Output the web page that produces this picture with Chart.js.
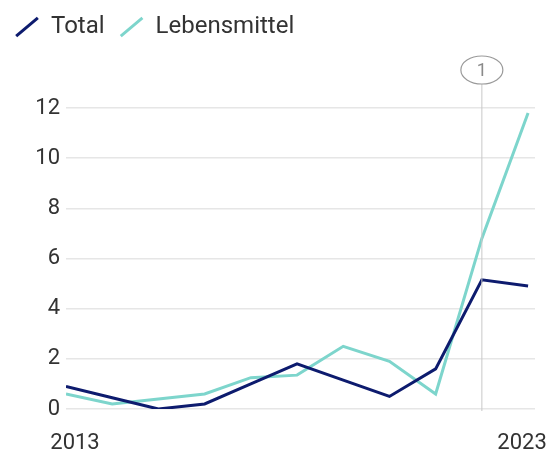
<!DOCTYPE html>
<html>
<head>
<meta charset="utf-8">
<script src="https://cdn.jsdelivr.net/npm/chart.js@4/dist/chart.umd.min.js"></script>
<style>
  html,body{margin:0;padding:0;background:#fff;}
  #wrap{width:549px;height:452px;}
</style>
</head>
<body>
<div id="wrap"><canvas id="c" width="549" height="452"></canvas></div>
<script>
// Werte
const years = [2013, 2014, 2015, 2016, 2017, 2018, 2019, 2020, 2021, 2022, 2023];
const total = [0.9, 0.45, 0.0, 0.2, 1.0, 1.8, 1.15, 0.5, 1.6, 5.15, 4.9];
const lebensmittel = [0.6, 0.2, 0.4, 0.6, 1.25, 1.35, 2.5, 1.9, 0.6, 6.8, 11.8];
const yTicks = [0, 2, 4, 6, 8, 10, 12];
const xLabels = ["2013", "2023"];
const markerYear = 2022;
const markerText = "1";

const FONT = "Roboto, 'Liberation Sans', sans-serif";
const INK = "#333333";

// mehr Platz unter der Legende
const legendSpacer = {
  id: "legendSpacer",
  beforeInit(chart){
    const fit = chart.legend.fit;
    chart.legend.fit = function(){
      fit.bind(chart.legend)();
      this.height += 59;
    };
  }
};

// Markierung (1) + Jahreszahlen an der x-Achse
const extras = {
  id: "extras",
  afterDraw(chart){
    const {ctx, chartArea, scales:{x}} = chart;
    const mx = x.getPixelForValue(markerYear);
    ctx.save();
    ctx.strokeStyle = "#c8c8c8";
    ctx.lineWidth = 1;
    ctx.beginPath();
    ctx.moveTo(mx, chartArea.top - 24);
    ctx.lineTo(mx, chartArea.bottom + 2);
    ctx.stroke();
    ctx.strokeStyle = "#9a9a9a";
    ctx.lineWidth = 1.2;
    ctx.beginPath();
    ctx.ellipse(mx, chartArea.top - 38, 21, 14, 0, 0, Math.PI*2);
    ctx.stroke();
    ctx.fillStyle = "#8a8a8a";
    ctx.font = "18px " + FONT;
    ctx.textAlign = "center";
    ctx.textBaseline = "middle";
    ctx.fillText(markerText, mx, chartArea.top - 37);

    ctx.fillStyle = INK;
    ctx.font = "22px " + FONT;
    ctx.textBaseline = "middle";
    ctx.fillText(xLabels[0], x.getPixelForValue(years[0]) + 9, chartArea.bottom + 34);
    ctx.fillText(xLabels[1], x.getPixelForValue(years[years.length-1]) - 6, chartArea.bottom + 34);
    ctx.restore();
  }
};

new Chart(document.getElementById("c"), {
  type: "line",
  data: {
    datasets: [
      {
        label: "Total",
        data: years.map((y,i)=>({x:y, y:total[i]})),
        borderColor: "#0d1b6e",
        backgroundColor: "#0d1b6e",
        borderWidth: 3,
        pointRadius: 0,
        pointRotation: -40,
        tension: 0,
      },
      {
        label: "Lebensmittel",
        data: years.map((y,i)=>({x:y, y:lebensmittel[i]})),
        borderColor: "#7dd5cc",
        backgroundColor: "#7dd5cc",
        borderWidth: 3,
        pointRadius: 0,
        pointRotation: -40,
        tension: 0,
      },
    ],
  },
  options: {
    responsive: false,
    animation: false,
    layout: { padding: { right: 14, bottom: 35 } },
    plugins: {
      legend: {
        align: "start",
        labels: {
          usePointStyle: true,
          pointStyle: "line",
          boxWidth: 26,
          boxHeight: 20,
          padding: 15,
          color: INK,
          font: { family: FONT, size: 24 },
        },
      },
      tooltip: { enabled: false },
    },
    scales: {
      x: {
        type: "linear",
        min: years[0],
        max: years[years.length-1] + 0.15,
        grid: { display: false },
        border: { display: false },
        ticks: { display: false },
      },
      y: {
        min: 0,
        max: 12,
        afterBuildTicks(scale){ scale.ticks = yTicks.map(v=>({value:v})); },
        afterFit(scale){ scale.width = 66; },
        grid: { color: "#e6e6e6", lineWidth: 1.5, drawTicks: false },
        border: { display: false },
        ticks: { padding: 6, color: INK, font: { family: FONT, size: 22 } },
      },
    },
  },
  plugins: [legendSpacer, extras],
});
</script>
</body>
</html>
